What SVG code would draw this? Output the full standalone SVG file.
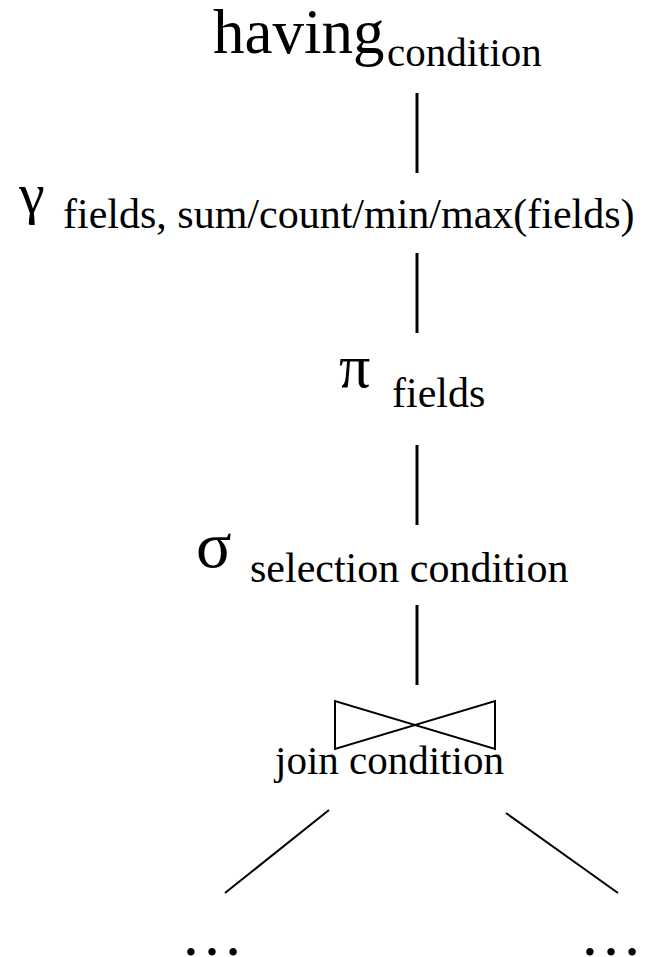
<svg xmlns="http://www.w3.org/2000/svg" width="650" height="957" viewBox="0 0 650 957" font-family="'Liberation Serif', 'Times New Roman', serif">
<style>
text{font-family:'Liberation Serif','Times New Roman',serif;fill:#000}
.sub{font-size:42px}
.greek{font-size:58px}
.edge{stroke:#000;stroke-width:3;fill:none}
.thin{stroke:#000;stroke-width:2;fill:none}
</style>
<rect width="650" height="957" fill="#fff"/>
<g id="connectors">
<line class="edge" x1="417" y1="93" x2="417" y2="173"/>
<line class="edge" x1="417" y1="253" x2="417" y2="333"/>
<line class="edge" x1="417" y1="445" x2="417" y2="525"/>
<line class="edge" x1="417" y1="605" x2="417" y2="685"/>
<line class="thin" x1="329" y1="810" x2="225" y2="893"/>
<line class="thin" x1="506" y1="813" x2="618" y2="893"/>
</g>
<g id="having">
<text x="213" y="53" font-size="63">having</text>
<text x="387" y="66" font-size="41">condition</text>
</g>
<g id="gamma">
<text x="19" y="213" class="greek">γ</text>
<text x="63" y="228" class="sub">fields, sum/count/min/max(fields)</text>
</g>
<g id="pi">
<text x="339" y="387" font-size="62">π</text>
<text x="392" y="407" class="sub">fields</text>
</g>
<g id="sigma">
<text x="196" y="567" font-size="66">σ</text>
<text x="250" y="582" class="sub">selection condition</text>
</g>
<g id="join">
<path class="thin" d="M335 701 V749 L495 701 V749 Z"/>
<text x="275" y="774" font-size="41">join condition</text>
</g>
<g id="left">
<text x="212" y="955" font-size="63" text-anchor="middle">…</text>
</g>
<g id="right">
<text x="611" y="955" font-size="63" text-anchor="middle">…</text>
</g>
</svg>
